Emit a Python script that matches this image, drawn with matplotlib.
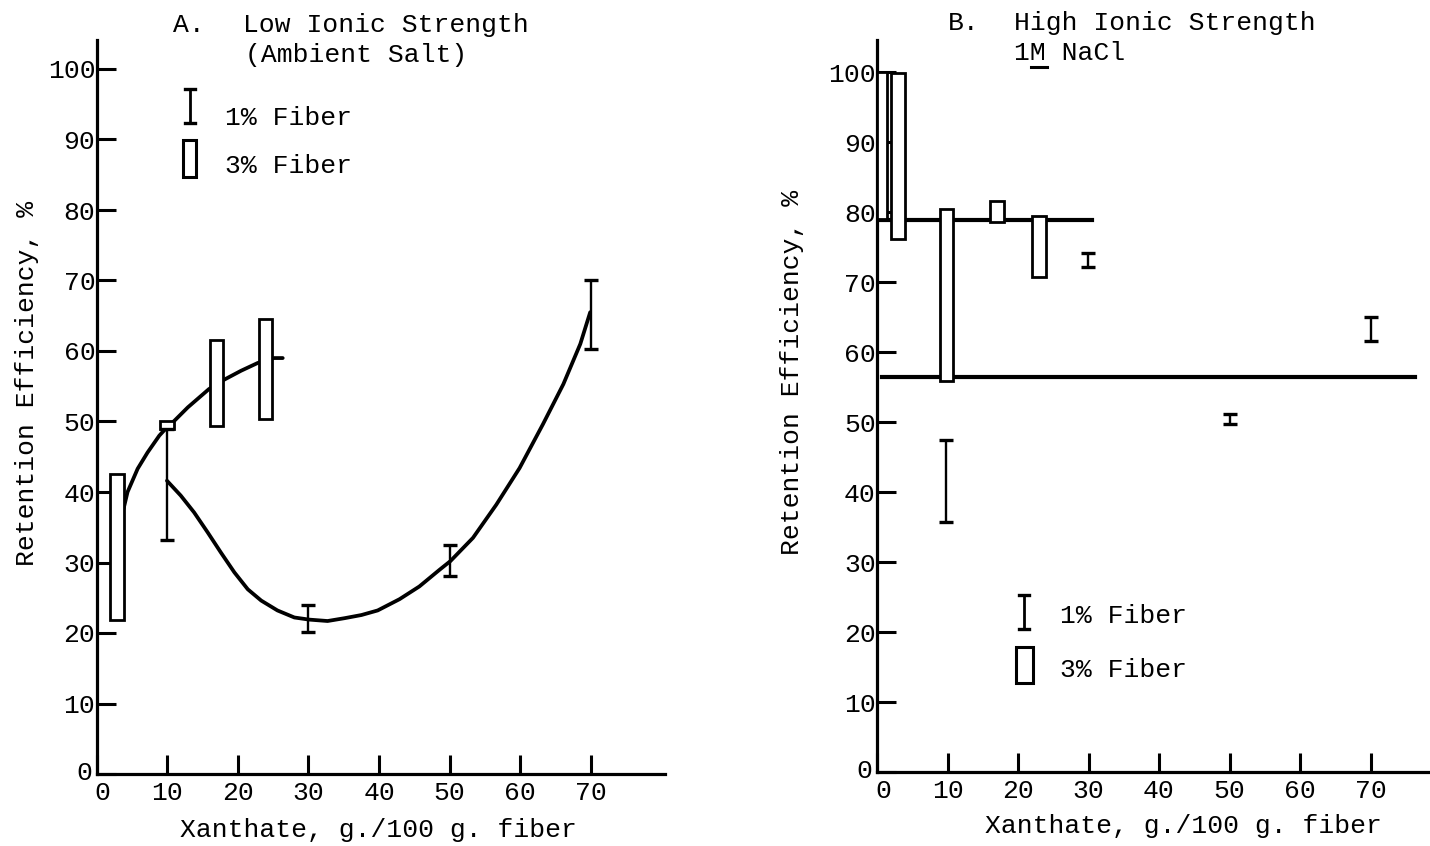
import numpy as np
import matplotlib
matplotlib.use("Agg")
import matplotlib.pyplot as plt
import matplotlib.transforms as mtransforms
from matplotlib.patches import Rectangle
from matplotlib.lines import Line2D

# ---- data ----
XTICKS = [0, 10, 20, 30, 40, 50, 60, 70]
YTICKS = [0, 10, 20, 30, 40, 50, 60, 70, 80, 90, 100]

# A. low ionic strength
A_BAR_X = np.array([10, 30, 50, 70])            # 1% fiber (I bars)
A_BAR_LO = np.array([33.2, 20.2, 28.1, 60.3])
A_BAR_HI = np.array([48.9, 24.0, 32.5, 70.0])

A_BOX_X = np.array([2.85, 9.95, 16.95, 23.95])  # 3% fiber (boxes)
A_BOX_LO = np.array([21.9, 48.9, 49.4, 50.4])
A_BOX_HI = np.array([42.6, 50.0, 61.6, 64.5])

A_UP_X = [3.8, 4.37, 5.8, 7.2, 8.87, 9.7, 11.0, 12.9, 15.9, 18.0, 20.45, 22.8, 25.1, 26.35]
A_UP_Y = [37.6, 40.0, 43.3, 45.6, 48.0, 48.9, 50.1, 52.0, 54.6, 55.9, 57.2, 58.3, 59.0, 59.0]

A_LOW_X = [9.95, 11.9, 13.8, 15.7, 17.6, 19.5, 21.4, 23.3, 25.6, 28.0, 30.1, 32.7, 35.1,
           37.5, 39.8, 42.9, 45.7, 48.6, 50.1, 53.3, 56.6, 59.9, 63.2, 66.1, 68.5, 69.9]
A_LOW_Y = [41.6, 39.5, 37.1, 34.3, 31.4, 28.6, 26.2, 24.6, 23.2, 22.2, 21.9, 21.7, 22.1,
           22.55, 23.2, 24.8, 26.6, 29.0, 30.2, 33.5, 38.2, 43.4, 49.6, 55.3, 61.0, 65.5]

# B. high ionic strength
B_BAR_X = np.array([9.8, 29.9, 50.1, 70.0])
B_BAR_LO = np.array([35.7, 72.2, 49.7, 61.6])
B_BAR_HI = np.array([47.4, 74.2, 51.2, 65.0])

B_BOX_X = np.array([0.7, 3.0, 9.85, 17.0, 23.0])
B_BOX_LO = np.array([79.0, 76.2, 55.8, 78.6, 70.7])
B_BOX_HI = np.array([100.0, 99.8, 80.4, 81.6, 79.4])

B_LEVEL_Y = [78.9, 56.4]
B_LEVEL_X0 = [0.0, 0.7]
B_LEVEL_X1 = [30.5, 76.3]

XLABEL = "Xanthate, g./100 g. fiber"
YLABEL = "Retention Efficiency, %"

# ---- drawing ----
W, H = 1430, 846
FS = 19
plt.rcParams['font.family'] = ['Liberation Mono', 'DejaVu Sans Mono']

fig = plt.figure(figsize=(W / 100, H / 100), dpi=100)


def fx(x):
    return x / W


def fy(y):
    return 1 - y / H


axA = fig.add_axes([fx(96.7), fy(774), (665 - 96.7) / W, (774 - 40.5) / H])
axA.set_xlim(0, (665 - 96.7) / 7.06)
axA.set_ylim(0, (774 - 40.5) / 7.05)

axB = fig.add_axes([fx(877), fy(772), (1430 - 877) / W, (772 - 40) / H])
axB.set_xlim(0, 553 / 7.05)
axB.set_ylim(0, 732 / 7.0)


def style(ax):
    for s in ['top', 'right']:
        ax.spines[s].set_visible(False)
    for s in ['left', 'bottom']:
        ax.spines[s].set_linewidth(2.3)
    ax.set_xticks(XTICKS)
    ax.set_yticks(YTICKS)
    ax.tick_params(direction='in', length=14, width=2.2, labelsize=FS)
    ax.tick_params(axis='x', pad=5)
    ax.tick_params(axis='y', pad=1)
    # typewriter offsets of the two corner zeros, keeps them apart
    fig.canvas.draw()
    xl0 = ax.get_xticklabels()[0]
    xl0.set_transform(xl0.get_transform() +
                      mtransforms.ScaledTranslation(6 / 100, 0, fig.dpi_scale_trans))
    yl0 = ax.get_yticklabels()[0]
    yl0.set_transform(yl0.get_transform() +
                      mtransforms.ScaledTranslation(-3 / 100, 4 / 100, fig.dpi_scale_trans))


def boxes(ax, x, lo, hi, w):
    ax.bar(x, hi - lo, bottom=lo, width=w, facecolor='white',
           edgecolor='black', linewidth=2, zorder=3)


def ibars(ax, x, lo, hi):
    ax.errorbar(x, (lo + hi) / 2, yerr=(hi - lo) / 2, fmt='none', ecolor='black',
                elinewidth=1.7, capsize=5, capthick=2.4, zorder=4)


def legend_glyphs(xi, y0, y1, bx0, bx1, by0, by1):
    fig.add_artist(Line2D([fx(xi)] * 2, [fy(y0), fy(y1)], lw=2.0, color='black'))
    for yy in (y0, y1):
        fig.add_artist(Line2D([fx(xi - 5), fx(xi + 5)], [fy(yy)] * 2, lw=2.4, color='black'))
    fig.add_artist(Rectangle((fx(bx0), fy(by1)), (bx1 - bx0) / W, (by1 - by0) / H,
                             transform=fig.transFigure, fill=False, lw=2.2, ec='black'))


def ftext(x, y, s, **kw):
    fig.text(fx(x), fy(y), s, fontsize=FS, va='baseline', **kw)


# panel A
axA.plot(A_UP_X, A_UP_Y, color='black', lw=2.7, solid_capstyle='round', zorder=2)
axA.plot(A_LOW_X, A_LOW_Y, color='black', lw=2.7, solid_capstyle='round', zorder=2)
boxes(axA, A_BOX_X, A_BOX_LO, A_BOX_HI, 1.9)
ibars(axA, A_BAR_X, A_BAR_LO, A_BAR_HI)

# panel B
for y, x0, x1 in zip(B_LEVEL_Y, B_LEVEL_X0, B_LEVEL_X1):
    axB.plot([x0, x1], [y, y], color='black', lw=3, zorder=2)
boxes(axB, B_BOX_X, B_BOX_LO, B_BOX_HI, [1.4, 1.9, 1.9, 1.9, 1.9])
ibars(axB, B_BAR_X, B_BAR_LO, B_BAR_HI)

style(axA)
style(axB)

# titles
ftext(173, 32, "A.")
ftext(243, 32, "Low Ionic Strength")
ftext(245, 62, "(Ambient Salt)")
ftext(948, 30, "B.")
ftext(1014, 30, "High Ionic Strength")
ftext(1014, 60, "1M NaCl")
fig.add_artist(Line2D([fx(1031), fx(1047)], [fy(67)] * 2, lw=2.2, color='black'))

# legends
legend_glyphs(190, 89, 123, 183, 196, 140, 177)
ftext(225, 125, "1% Fiber")
ftext(225, 173, "3% Fiber")
legend_glyphs(1024, 595, 629, 1016, 1033, 647, 683)
ftext(1060, 623, "1% Fiber")
ftext(1060, 677, "3% Fiber")

# axis labels
ftext(378, 837, XLABEL, ha='center')
ftext(1183, 833, XLABEL, ha='center')
fig.text(fx(27), fy(383), YLABEL, fontsize=FS, rotation=90, ha='center', va='center')
fig.text(fx(792), fy(372), YLABEL, fontsize=FS, rotation=90, ha='center', va='center')

fig.savefig("out.png", dpi=100, facecolor='white')
